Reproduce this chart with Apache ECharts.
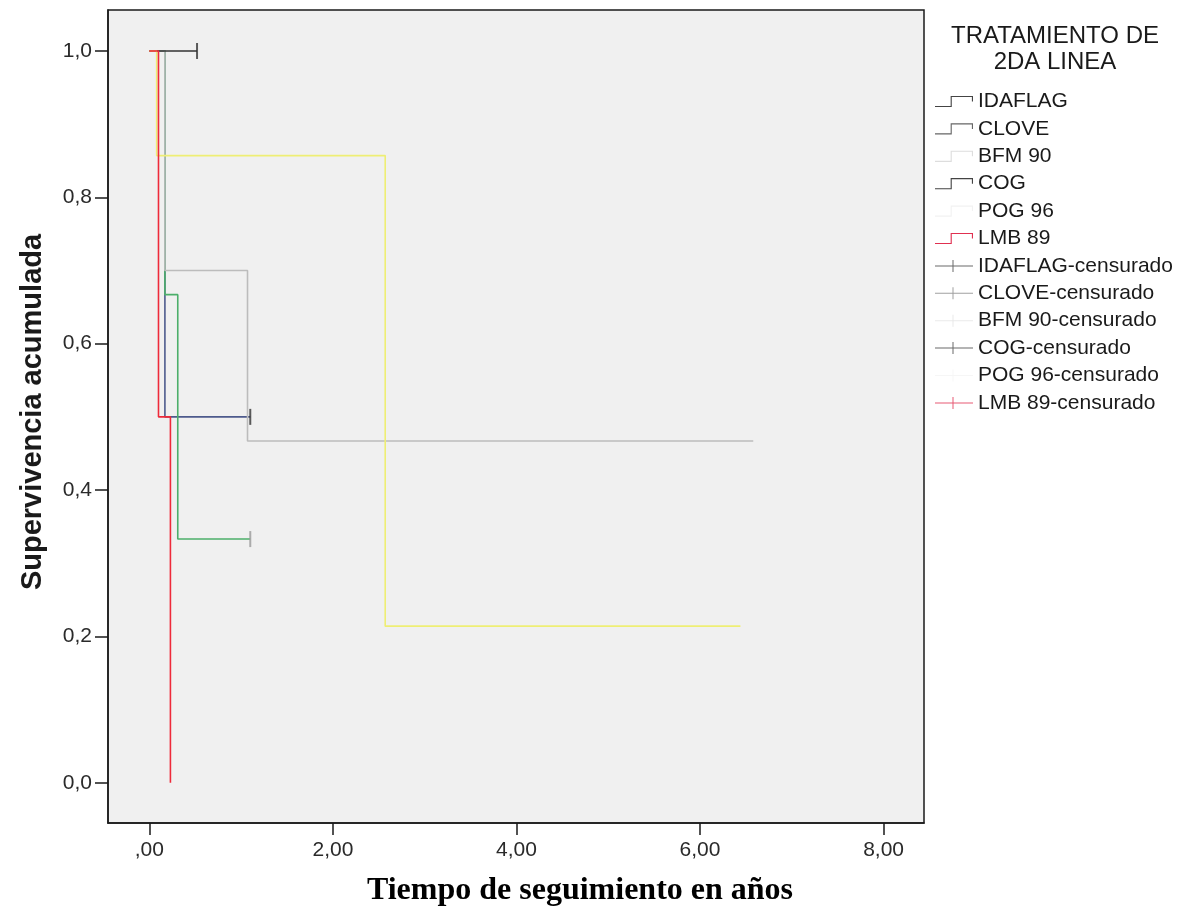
<!DOCTYPE html>
<html>
<head>
<meta charset="utf-8">
<script src="https://cdn.jsdelivr.net/npm/echarts@6/dist/echarts.min.js"></script>
<style>
html,body{margin:0;padding:0;background:#ffffff;}
#chart{width:1183px;height:913px;}
</style>
</head>
<body>
<div id="chart"></div>
<script>
// ---- data (time in years, cumulative survival) ----
const groups = ['IDAFLAG', 'CLOVE', 'BFM 90', 'COG', 'POG 96', 'LMB 89'];

const idaflagT = [0, 0.17, 1.10];
const idaflagS = [1, 0.5, 0.5];
const cloveT = [0, 0.17, 0.31, 1.10];
const cloveS = [1, 0.667, 0.333, 0.333];
const bfmT = [0, 0.17, 1.07, 6.58];
const bfmS = [1, 0.7, 0.467, 0.467];
const cogT = [0, 0.52];
const cogS = [1, 1];
const pogT = [0, 0.08, 2.57, 6.44];
const pogS = [1, 0.857, 0.214, 0.214];
const lmbT = [0, 0.10, 0.23];
const lmbS = [1, 0.5, 0];

// censored observations
const idaflagCT = [1.10];
const idaflagCS = [0.5];
const cloveCT = [1.10];
const cloveCS = [0.333];
const bfmCT = [];
const bfmCS = [];
const cogCT = [0.52];
const cogCS = [1];
const pogCT = [];
const pogCS = [];
const lmbCT = [];
const lmbCS = [];

const xTicks = [0, 2, 4, 6, 8];
const yTicks = [0, 0.2, 0.4, 0.6, 0.8, 1];

// ---- styling ----
const lineColors = ['#4d5a8c', '#4caf6a', '#bcbcbc', '#333333', '#eeee74', '#ee2a3a'];
const legendLineColors = ['#444444', '#666666', '#dddddd', '#444444', '#f2f2f2', '#e03050'];
const legendCensColors = ['#444444', '#888888', '#e4e4e4', '#444444', '#f4f4f4', '#e03050'];
const censColors = ['#333333', '#9a9a9a', '#bcbcbc', '#333333', '#eeee74', '#ee2a3a'];

const stepIcon = 'path://M0,10L14,10L14,1L34,1L34,6L33,6L33,2L15,2L15,11L0,11Z';
const censIcon = 'path://M0,5.5L38,5.5L38,6.5L0,6.5ZM17.5,0L18.5,0L18.5,12L17.5,12Z';

const zip = (t, s) => t.map((v, i) => [v, s[i]]);
const lineData = [zip(idaflagT, idaflagS), zip(cloveT, cloveS), zip(bfmT, bfmS), zip(cogT, cogS), zip(pogT, pogS), zip(lmbT, lmbS)];
const censData = [zip(idaflagCT, idaflagCS), zip(cloveCT, cloveCS), zip(bfmCT, bfmCS), zip(cogCT, cogCS), zip(pogCT, pogCS), zip(lmbCT, lmbCS)];

const series = [];
groups.forEach((g, i) => {
  series.push({
    name: g, type: 'line', step: 'end', data: lineData[i],
    showSymbol: false, symbol: 'none',
    lineStyle: { color: lineColors[i], width: 1.6 },
    itemStyle: { color: lineColors[i] },
    z: 3, animation: false, silent: true
  });
});
groups.forEach((g, i) => {
  series.push({
    name: g + '-censurado', type: 'scatter', data: censData[i],
    symbol: 'rect', symbolSize: [2, 16],
    itemStyle: { color: censColors[i] },
    z: 4, animation: false, silent: true
  });
});

const legendData = [];
groups.forEach((g, i) => legendData.push({ name: g, icon: stepIcon, itemStyle: { color: legendLineColors[i], borderWidth: 0 } }));
groups.forEach((g, i) => legendData.push({ name: g + '-censurado', icon: censIcon, itemStyle: { color: legendCensColors[i], borderWidth: 0 } }));

const chart = echarts.init(document.getElementById('chart'), null, { renderer: 'canvas' });
chart.setOption({
  animation: false,
  backgroundColor: '#ffffff',
  grid: {
    left: 108, top: 10, width: 816, height: 813,
    show: true, backgroundColor: '#f0f0f0', borderColor: '#1a1a1a', borderWidth: 1.5
  },
  xAxis: {
    type: 'value', min: -0.45, max: 8.44,
    axisLine: { show: true, onZero: false, lineStyle: { color: '#1a1a1a', width: 1.5 } },
    axisTick: { show: true, customValues: xTicks, length: 12, lineStyle: { color: '#1a1a1a', width: 1.5 } },
    axisLabel: {
      customValues: xTicks, margin: 17, fontSize: 21, color: '#2a2a2a', fontFamily: 'Liberation Sans, Arial, sans-serif',
      formatter: v => (v === 0 ? ',00' : v.toFixed(2).replace('.', ','))
    },
    splitLine: { show: false }
  },
  yAxis: {
    type: 'value', min: -0.055, max: 1.056,
    axisLine: { show: true, onZero: false, lineStyle: { color: '#1a1a1a', width: 1.5 } },
    axisTick: { show: true, customValues: yTicks, length: 13, lineStyle: { color: '#1a1a1a', width: 1.5 } },
    axisLabel: {
      customValues: yTicks, margin: 16, fontSize: 21, color: '#2a2a2a', fontFamily: 'Liberation Sans, Arial, sans-serif',
      formatter: v => v.toFixed(1).replace('.', ',')
    },
    splitLine: { show: false }
  },
  legend: {
    orient: 'vertical', left: 930, top: 86,
    itemWidth: 38, itemHeight: 12, itemGap: 6.4,
    selectedMode: false,
    textStyle: { fontSize: 21, lineHeight: 21, color: '#1a1a1a', fontFamily: 'Liberation Sans, Arial, sans-serif' },
    data: legendData
  },
  graphic: [
    {
      type: 'text', x: 1055, y: 23,
      style: {
        text: 'TRATAMIENTO DE\n2DA LINEA',
        textAlign: 'center', textVerticalAlign: 'top',
        font: '24px "Liberation Sans", Arial, sans-serif', fill: '#1a1a1a', lineHeight: 26
      }
    },
    {
      type: 'text', x: 33, y: 412, rotation: Math.PI / 2,
      style: {
        text: 'Supervivencia acumulada', textAlign: 'center', textVerticalAlign: 'middle',
        font: 'bold 29px "Liberation Sans", Arial, sans-serif', fill: '#1a1a1a'
      }
    },
    {
      type: 'text', x: 580, y: 891,
      style: {
        text: 'Tiempo de seguimiento en años', textAlign: 'center', textVerticalAlign: 'middle',
        font: 'bold 32px "Liberation Serif", "Times New Roman", serif', fill: '#000000'
      }
    }
  ],
  series: series
});
</script>
</body>
</html>
